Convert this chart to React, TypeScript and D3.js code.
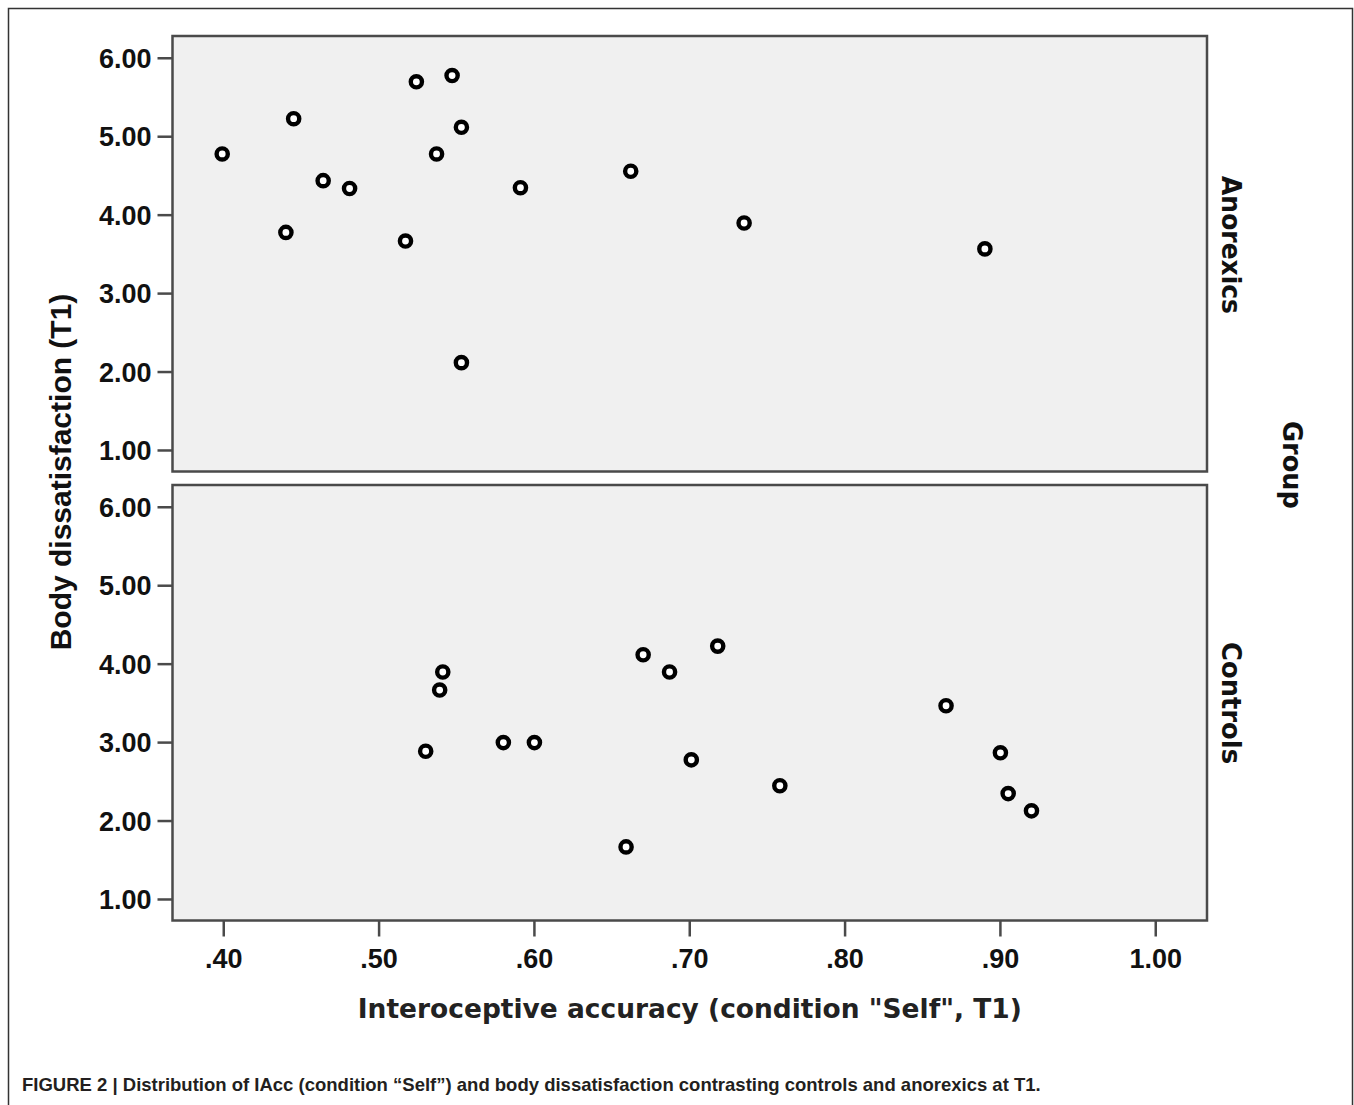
import React, { useEffect, useRef } from 'react';
import * as d3 from 'd3';

// Interoceptive accuracy (x) and body dissatisfaction (y) per group
const anorexicsIAcc = [0.399, 0.445, 0.44, 0.464, 0.481, 0.517, 0.524, 0.537, 0.547, 0.553, 0.553, 0.591, 0.662, 0.735, 0.89];
const anorexicsBD = [4.78, 5.23, 3.78, 4.44, 4.34, 3.67, 5.7, 4.78, 5.78, 5.12, 2.12, 4.35, 4.56, 3.9, 3.57];

const controlsIAcc = [0.53, 0.541, 0.539, 0.58, 0.6, 0.659, 0.67, 0.687, 0.701, 0.718, 0.758, 0.865, 0.9, 0.905, 0.92];
const controlsBD = [2.89, 3.9, 3.67, 3.0, 3.0, 1.67, 4.12, 3.9, 2.78, 4.23, 2.45, 3.47, 2.87, 2.35, 2.13];

const groups = ['Anorexics', 'Controls'];
const xTicks = [0.4, 0.5, 0.6, 0.7, 0.8, 0.9, 1.0];
const yTicks = [1, 2, 3, 4, 5, 6];

const xTitle = 'Interoceptive accuracy (condition "Self", T1)';
const yTitle = 'Body dissatisfaction (T1)';
const facetTitle = 'Group';
const caption = 'FIGURE 2 | Distribution of IAcc (condition \u201cSelf\u201d) and body dissatisfaction contrasting controls and anorexics at T1.';

const App = () => {
  const svgRef = useRef<SVGSVGElement | null>(null);

  useEffect(() => {
    if (!svgRef.current) return;
    const width = 1354;
    const height = 1105;
    const svg = d3.select(svgRef.current);
    svg.selectAll('*').remove();

    const arial = '"Liberation Sans", Arial, sans-serif';
    const deja = '"DejaVu Sans", sans-serif';
    const axisCol = '#4a4a4a';

    // outer frame
    svg.append('rect')
      .attr('x', 8.5).attr('y', 8.5)
      .attr('width', width - 10).attr('height', height + 20)
      .attr('fill', 'none').attr('stroke', '#333').attr('stroke-width', 1.5);

    const panelLeft = 172.5;
    const panelRight = 1207;
    const panelTops = [36, 485];
    const panelH = 435.5;

    const x = d3.scaleLinear().domain([0.367, 1.033]).range([panelLeft, panelRight]);

    const panels = [
      { name: groups[0], xs: anorexicsIAcc, ys: anorexicsBD, labelY: 245 },
      { name: groups[1], xs: controlsIAcc, ys: controlsBD, labelY: 703 },
    ];

    panels.forEach((p, pi) => {
      const top = panelTops[pi];
      const y = d3.scaleLinear().domain([0.732, 6.284]).range([top + panelH, top]);
      const g = svg.append('g');

      g.append('rect')
        .attr('x', panelLeft).attr('y', top)
        .attr('width', panelRight - panelLeft).attr('height', panelH)
        .attr('fill', '#f0f0f0').attr('stroke', axisCol).attr('stroke-width', 2.5);

      yTicks.forEach(t => {
        g.append('line')
          .attr('x1', panelLeft - 15).attr('x2', panelLeft)
          .attr('y1', y(t)).attr('y2', y(t))
          .attr('stroke', axisCol).attr('stroke-width', 2.5);
        g.append('text')
          .attr('x', panelLeft - 21).attr('y', y(t))
          .attr('dy', '0.36em')
          .attr('text-anchor', 'end')
          .style('font-family', arial).style('font-weight', 'bold').style('font-size', '27px')
          .attr('fill', '#111')
          .text(t.toFixed(2));
      });

      g.selectAll('circle.pt')
        .data(p.xs.map((v, i) => ({ x: v, y: p.ys[i] })))
        .enter().append('circle')
        .attr('class', 'pt')
        .attr('cx', d => x(d.x)).attr('cy', d => y(d.y))
        .attr('r', 5.6)
        .attr('fill', '#fff').attr('stroke', '#000').attr('stroke-width', 4.4);

      // facet label
      g.append('text')
        .attr('transform', `translate(1222, ${p.labelY}) rotate(90)`)
        .attr('text-anchor', 'middle')
        .style('font-family', deja).style('font-weight', 'bold').style('font-size', '26px')
        .attr('textLength', p.name === 'Anorexics' ? 138 : 122)
        .attr('lengthAdjust', 'spacingAndGlyphs')
        .attr('fill', '#111')
        .text(p.name);
    });

    const bottom = panelTops[1] + panelH;
    xTicks.forEach(t => {
      svg.append('line')
        .attr('x1', x(t)).attr('x2', x(t))
        .attr('y1', bottom).attr('y2', bottom + 16)
        .attr('stroke', axisCol).attr('stroke-width', 2.5);
      svg.append('text')
        .attr('x', x(t)).attr('y', 968)
        .attr('text-anchor', 'middle')
        .style('font-family', arial).style('font-weight', 'bold').style('font-size', '27px')
        .attr('fill', '#111')
        .text(t === 1 ? '1.00' : d3.format('.2f')(t).replace(/^0/, ''));
    });

    // axis titles
    svg.append('text')
      .attr('x', (panelLeft + panelRight) / 2).attr('y', 1018)
      .attr('text-anchor', 'middle')
      .style('font-family', deja).style('font-weight', 'bold').style('font-size', '27px')
      .attr('textLength', 664).attr('lengthAdjust', 'spacingAndGlyphs')
      .attr('fill', '#222')
      .text(xTitle);

    svg.append('text')
      .attr('transform', `translate(71, 472) rotate(-90)`)
      .attr('text-anchor', 'middle')
      .style('font-family', arial).style('font-weight', 'bold').style('font-size', '30px')
      .attr('fill', '#111')
      .text(yTitle);

    svg.append('text')
      .attr('transform', `translate(1283, 465) rotate(90)`)
      .attr('text-anchor', 'middle')
      .style('font-family', deja).style('font-weight', 'bold').style('font-size', '26px')
      .attr('textLength', 88).attr('lengthAdjust', 'spacingAndGlyphs')
      .attr('fill', '#111')
      .text(facetTitle);

    // caption
    svg.append('text')
      .attr('x', 22).attr('y', 1091)
      .style('font-family', arial).style('font-weight', 'bold').style('font-size', '18.5px')
      .attr('fill', '#231f20')
      .text(caption);
  }, []);

  return (
    <svg
      ref={svgRef}
      width={1354}
      height={1105}
      style={{ position: 'absolute', left: 0, top: 0, display: 'block', background: '#fff' }}
    />
  );
};

export default App;
